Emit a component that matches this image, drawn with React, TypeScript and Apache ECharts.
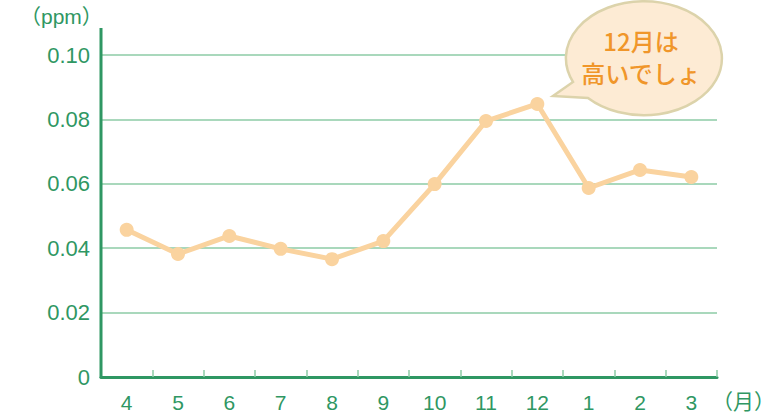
import React, { useEffect, useRef } from "react";
import * as echarts from "echarts";

const months = ["4", "5", "6", "7", "8", "9", "10", "11", "12", "1", "2", "3"];
const values = [0.0457, 0.0382, 0.0438, 0.0398, 0.0366, 0.0422, 0.0599, 0.0795, 0.0848, 0.0587, 0.0643, 0.0621];
const yTicks = [0, 0.02, 0.04, 0.06, 0.08, 0.1];
const yUnit = "（ppm）";
const xUnit = "（月）";
const bubbleLines = ["12月は", "高いでしょ"];

const GREEN = "#2f9763";
const LIGHT = "#8ccba6";
const FONT = "'Liberation Sans', 'Noto Sans CJK JP', sans-serif";

echarts.graphic.registerShape(
  "bubble",
  echarts.graphic.extendPath("M 573 82 A 78 57 0 1 1 588 98 L 553 96 Z", {})
);

export default function App() {
  const ref = useRef<HTMLDivElement>(null);
  useEffect(() => {
    document.body.style.margin = "0";
    const chart = echarts.init(ref.current!, null, { renderer: "svg" });
    chart.setOption({
      animation: false,
      backgroundColor: "#ffffff",
      grid: { left: 101, right: 66, top: 55, bottom: 40 },
      xAxis: {
        type: "category",
        data: months,
        boundaryGap: true,
        axisLine: { lineStyle: { color: GREEN, width: 3 } },
        axisTick: { show: true, inside: true, length: 7, lineStyle: { color: LIGHT, width: 1.5 } },
        axisLabel: { color: GREEN, fontSize: 21, fontFamily: FONT, margin: 15 },
        splitLine: { show: false },
      },
      yAxis: {
        type: "value",
        min: 0,
        max: 0.1,
        interval: 0.02,
        axisLine: { show: false },
        axisTick: { show: false },
        axisLabel: {
          color: GREEN,
          fontSize: 22,
          fontFamily: FONT,
          margin: 11,
          formatter: (v: number) => {
            const t = yTicks.find((x) => Math.abs(x - v) < 1e-9);
            return t === 0 ? "0" : (t ?? v).toFixed(2);
          },
        },
        splitLine: { lineStyle: { color: LIGHT, width: 1.5 } },
      },
      series: [
        {
          type: "line",
          data: values,
          symbol: "circle",
          symbolSize: 14,
          lineStyle: { color: "#fad39f", width: 5 },
          itemStyle: { color: "#fad39f" },
          z: 5,
        },
      ],
      graphic: [
        {
          type: "line",
          shape: { x1: 101, y1: 28, x2: 101, y2: 378 },
          style: { stroke: GREEN, lineWidth: 3 },
          z: 10,
        },
        {
          type: "text",
          left: 20,
          top: 6,
          style: { text: yUnit, fill: GREEN, fontSize: 21, fontFamily: FONT },
        },
        {
          type: "text",
          left: 712,
          top: 391,
          style: { text: xUnit, fill: GREEN, fontSize: 21, fontFamily: FONT },
        },
        {
          type: "bubble",
          x: 0,
          y: 0,
          style: { fill: "#fdebd4", stroke: "#dcd3ab", lineWidth: 2.5 },
          z: 20,
        },
        {
          type: "text",
          x: 641,
          y: 40,
          style: {
            text: bubbleLines[0],
            fill: "#f0962a",
            fontSize: 24,
            fontWeight: 500,
            fontFamily: "'Noto Sans CJK JP', sans-serif",
            align: "center",
            verticalAlign: "middle",
          },
          z: 21,
        },
        {
          type: "text",
          x: 641,
          y: 72,
          style: {
            text: bubbleLines[1],
            fill: "#f0962a",
            fontSize: 24,
            fontWeight: 500,
            fontFamily: "'Noto Sans CJK JP', sans-serif",
            align: "center",
            verticalAlign: "middle",
          },
          z: 21,
        },
      ],
    });
    return () => chart.dispose();
  }, []);
  return <div ref={ref} style={{ width: 783, height: 417 }} />;
}
